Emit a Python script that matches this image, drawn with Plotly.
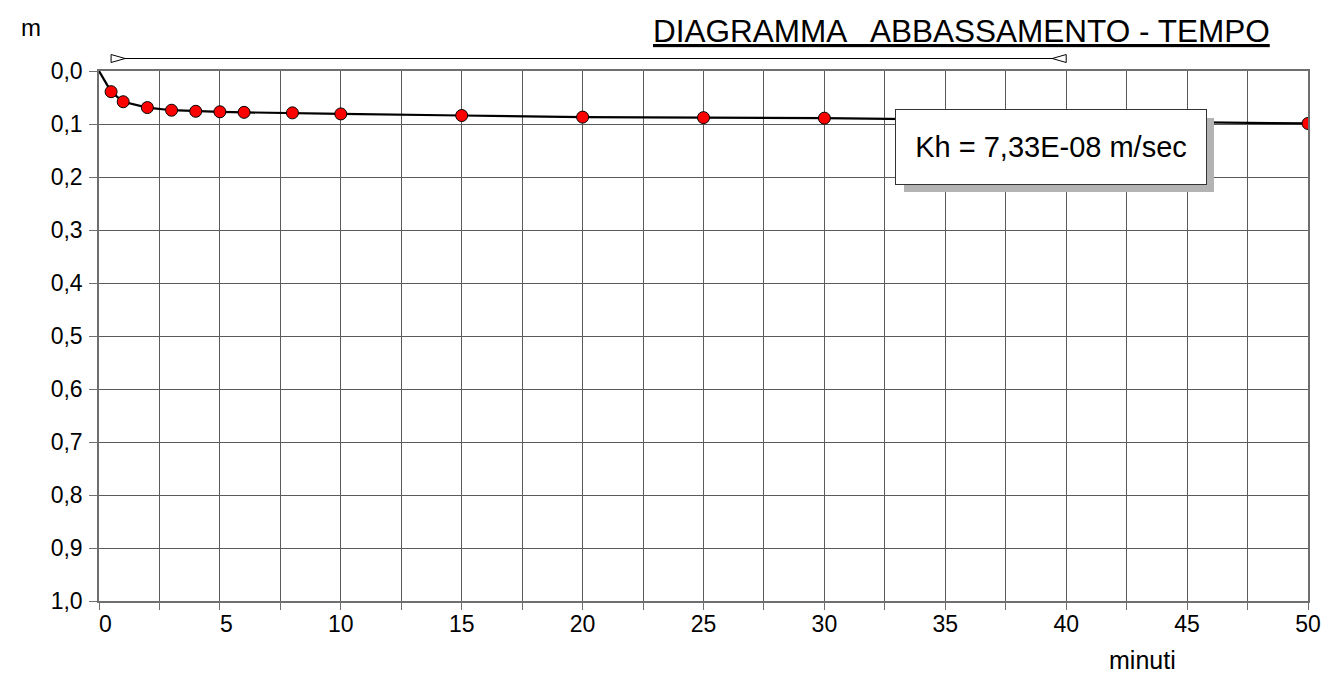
import plotly.graph_objects as go

# ---- data ----
tempo_min = [0, 0.5, 1, 2, 3, 4, 5, 6, 8, 10, 15, 20, 25, 30, 40, 50]
abbassamento_m = [0.0, 0.039, 0.058, 0.069, 0.074, 0.076, 0.077, 0.078,
                  0.079, 0.081, 0.084, 0.087, 0.088, 0.089, 0.094, 0.099]

x_tick_vals = [i * 2.5 for i in range(21)]
x_tick_labels = ["\u00a0\u00a00", "", "\u00a0\u00a05", "", "10", "", "15", "", "20", "", "25", "",
                 "30", "", "35", "", "40", "", "45", "", "50"]
y_tick_vals = [i / 10 for i in range(11)]

test_start = 0.5
test_end = 40
kh_text = "Kh = 7,33E-08 m/sec"
title_text = "DIAGRAMMA   ABBASSAMENTO - TEMPO"

FONT = "Arial, Liberation Sans, sans-serif"
W, H = 1337, 675
ML, MR, MT, MB = 99, 29, 71, 74
plot_w = W - ML - MR
plot_h = H - MT - MB

fig = go.Figure()

fig.add_trace(go.Scatter(
    x=tempo_min, y=abbassamento_m, mode="lines",
    line=dict(color="black", width=2.2), hoverinfo="skip", showlegend=False))

fig.add_trace(go.Scatter(
    x=[t for t in tempo_min if t > 0],
    y=[v for t, v in zip(tempo_min, abbassamento_m) if t > 0],
    mode="markers",
    marker=dict(color="#ff0000", size=12, line=dict(color="black", width=1)),
    showlegend=False))

arrow_y = 1 + 12.5 / plot_h
shapes = [
    dict(type="line", xref="x", yref="paper", x0=test_start, x1=test_end,
         y0=arrow_y, y1=arrow_y, line=dict(color="black", width=1)),
    dict(type="path", xref="x", yref="paper", xsizemode="pixel", ysizemode="pixel",
         xanchor=test_start, yanchor=arrow_y, path="M0,-4 L14,0 L0,4 Z",
         fillcolor="white", line=dict(color="black", width=1)),
    dict(type="path", xref="x", yref="paper", xsizemode="pixel", ysizemode="pixel",
         xanchor=test_end, yanchor=arrow_y, path="M0,-4 L-14,0 L0,4 Z",
         fillcolor="white", line=dict(color="black", width=1)),
]

box_x = (1051 - ML) / plot_w
box_y = 1 - (146.8 - MT) / plot_h
annotations = [
    dict(xref="paper", yref="paper", x=box_x, y=box_y, xshift=8, yshift=-8,
         xanchor="center", yanchor="middle",
         text=" ", showarrow=False, width=310, height=74, bgcolor="#b3b3b3",
         borderpad=0, borderwidth=0),
    dict(xref="paper", yref="paper", x=box_x, y=box_y,
         xanchor="center", yanchor="middle",
         text=kh_text, showarrow=False, width=310, height=74, bgcolor="white",
         bordercolor="#333333", borderwidth=1, borderpad=0,
         font=dict(family=FONT, size=29, color="black")),
    dict(xref="paper", yref="paper", x=(1272 - ML) / plot_w, y=1 + (71 - 31) / plot_h,
         xanchor="right", yanchor="middle", showarrow=False,
         text="<u>" + title_text + "</u>",
         font=dict(family=FONT, size=31.5, color="black")),
    dict(xref="paper", yref="paper", x=(31 - ML) / plot_w, y=1 + (71 - 28) / plot_h,
         xanchor="center", yanchor="middle", showarrow=False, text="m",
         font=dict(family=FONT, size=24, color="black")),
    dict(xref="paper", yref="paper", x=(1142 - ML) / plot_w, y=-(660 - MT - plot_h) / plot_h,
         xanchor="center", yanchor="middle", showarrow=False, text="minuti",
         font=dict(family=FONT, size=25, color="black")),
]

fig.update_layout(
    width=W, height=H, autosize=False,
    margin=dict(l=ML, r=MR, t=MT, b=MB, pad=0),
    paper_bgcolor="white", plot_bgcolor="white",
    separators=", ",
    font=dict(family=FONT, size=23, color="black"),
    shapes=shapes, annotations=annotations,
    showlegend=False,
)
fig.update_xaxes(
    range=[0, 50], tickmode="array", tickvals=x_tick_vals, ticktext=x_tick_labels,
    showgrid=True, gridcolor="#5a5a5a", gridwidth=1,
    showline=True, linecolor="#6f6f6f", linewidth=1.5, mirror=True,
    ticks="outside", ticklen=7, tickcolor="#6f6f6f", tickwidth=1,
    zeroline=False, tickfont=dict(family=FONT, size=23, color="black"),
    ticklabelstandoff=-5,
)
fig.update_yaxes(
    range=[1.0, 0.0], tickmode="array", tickvals=y_tick_vals, tickformat=".1f",
    showgrid=True, gridcolor="#5a5a5a", gridwidth=1,
    showline=True, linecolor="#6f6f6f", linewidth=1.5, mirror=True,
    ticks="outside", ticklen=8, tickcolor="#6f6f6f", tickwidth=1,
    zeroline=False, tickfont=dict(family=FONT, size=23, color="black"),
    ticklabelstandoff=2,
)

fig.write_html("out.html", config={"displayModeBar": False},
               post_script="document.body.style.margin='0';")
